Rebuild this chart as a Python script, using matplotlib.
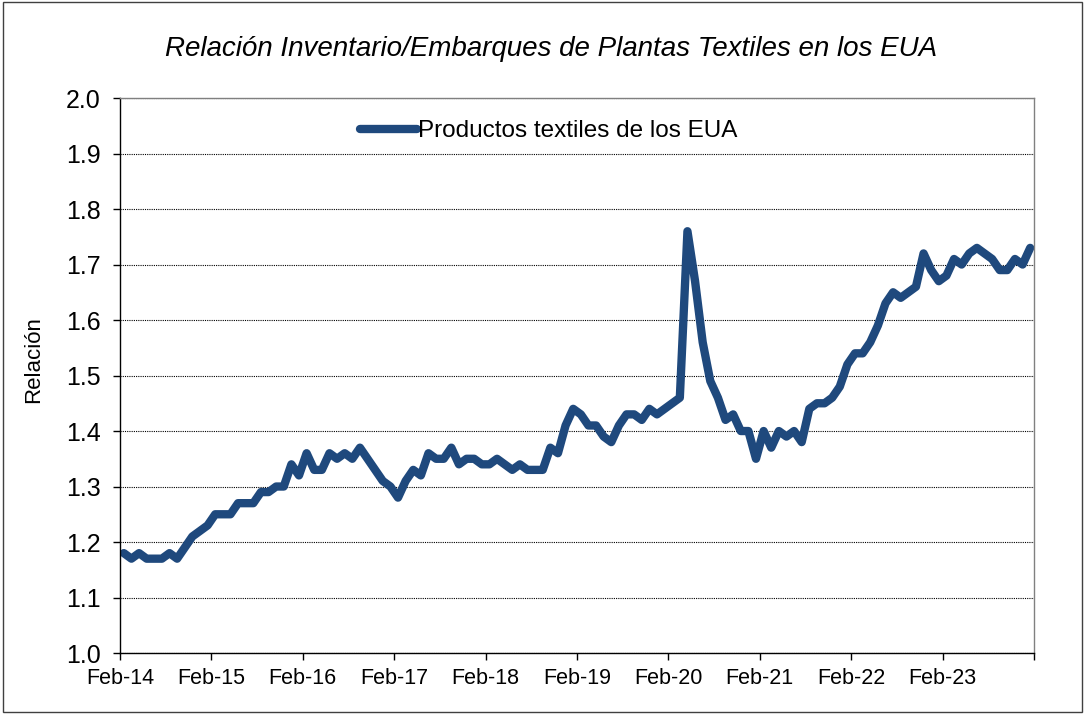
import matplotlib.pyplot as plt
import matplotlib.patches as patches
import numpy as np

plt.rcParams['font.family'] = ['Liberation Sans', 'DejaVu Sans']

# monthly ratio, Feb-14 .. Jan-24
ratio = [1.18, 1.17, 1.18, 1.17, 1.17, 1.17, 1.18, 1.17, 1.19, 1.21, 1.22, 1.23,   # Feb-14 .. Jan-15
         1.25, 1.25, 1.25, 1.27, 1.27, 1.27, 1.29, 1.29, 1.30, 1.30, 1.34, 1.32,   # Feb-15 .. Jan-16
         1.36, 1.33, 1.33, 1.36, 1.35, 1.36, 1.35, 1.37, 1.35, 1.33, 1.31, 1.30,   # Feb-16 .. Jan-17
         1.28, 1.31, 1.33, 1.32, 1.36, 1.35, 1.35, 1.37, 1.34, 1.35, 1.35, 1.34,   # Feb-17 .. Jan-18
         1.34, 1.35, 1.34, 1.33, 1.34, 1.33, 1.33, 1.33, 1.37, 1.36, 1.41, 1.44,   # Feb-18 .. Jan-19
         1.43, 1.41, 1.41, 1.39, 1.38, 1.41, 1.43, 1.43, 1.42, 1.44, 1.43, 1.44,   # Feb-19 .. Jan-20
         1.45, 1.46, 1.76, 1.67, 1.56, 1.49, 1.46, 1.42, 1.43, 1.40, 1.40, 1.35,   # Feb-20 .. Jan-21
         1.40, 1.37, 1.40, 1.39, 1.40, 1.38, 1.44, 1.45, 1.45, 1.46, 1.48, 1.52,   # Feb-21 .. Jan-22
         1.54, 1.54, 1.56, 1.59, 1.63, 1.65, 1.64, 1.65, 1.66, 1.72, 1.69, 1.67,   # Feb-22 .. Jan-23
         1.68, 1.71, 1.70, 1.72, 1.73, 1.72, 1.71, 1.69, 1.69, 1.71, 1.70, 1.73]   # Feb-23 .. Jan-24

tick_labels = ['Feb-14', 'Feb-15', 'Feb-16', 'Feb-17', 'Feb-18',
               'Feb-19', 'Feb-20', 'Feb-21', 'Feb-22', 'Feb-23', '']
series_name = 'Productos textiles de los EUA'
title = 'Relación Inventario/Embarques de Plantas Textiles en los EUA'

fig = plt.figure(figsize=(10.89, 7.14), dpi=100)
ax = fig.add_axes([0.1102, 0.0854, 0.8393, 0.7773])

x = np.arange(len(ratio)) + 0.5  # points sit mid-month
ax.plot(x, ratio, color='#1F497D', linewidth=6, solid_joinstyle='round',
        solid_capstyle='round', label=series_name)

ax.set_xlim(0, 120)
ax.set_ylim(1.0, 2.0)
ax.set_xticks(np.arange(0, 121, 12))
ax.set_xticklabels(tick_labels)
ax.set_yticks(np.arange(1.0, 2.01, 0.1))
ax.set_yticklabels([f'{v:.1f}' for v in np.arange(1.0, 2.01, 0.1)])
ax.tick_params(direction='out', length=5, width=1)
ax.tick_params(axis='y', labelsize=18, pad=9)
ax.tick_params(axis='x', labelsize=15.5, pad=6)

ax.yaxis.grid(True, color='black', linestyle=(0, (1, 1)), linewidth=0.8)
ax.set_axisbelow(True)
for s in ['left', 'bottom']:
    ax.spines[s].set_color('black')
    ax.spines[s].set_linewidth(1)
for s in ['top', 'right']:
    ax.spines[s].set_color('#808080')
    ax.spines[s].set_linewidth(1)

ax.set_ylabel('Relación', fontsize=16)
ax.yaxis.set_label_coords(-0.083, 0.528)

ax.legend(loc='center left', bbox_to_anchor=(0.2385, 0.94), frameon=False,
          fontsize=17.5, handlelength=2.35, handletextpad=0.03)

fig.text(0.506, 0.932, title, ha='center', va='center', fontsize=20, style='italic')

# chart area border
fig.patches.append(patches.Rectangle((0.003, 0.003), 0.991, 0.994, transform=fig.transFigure,
                                     fill=False, edgecolor='#404040', linewidth=1))

fig.savefig('out.png', dpi=100)
